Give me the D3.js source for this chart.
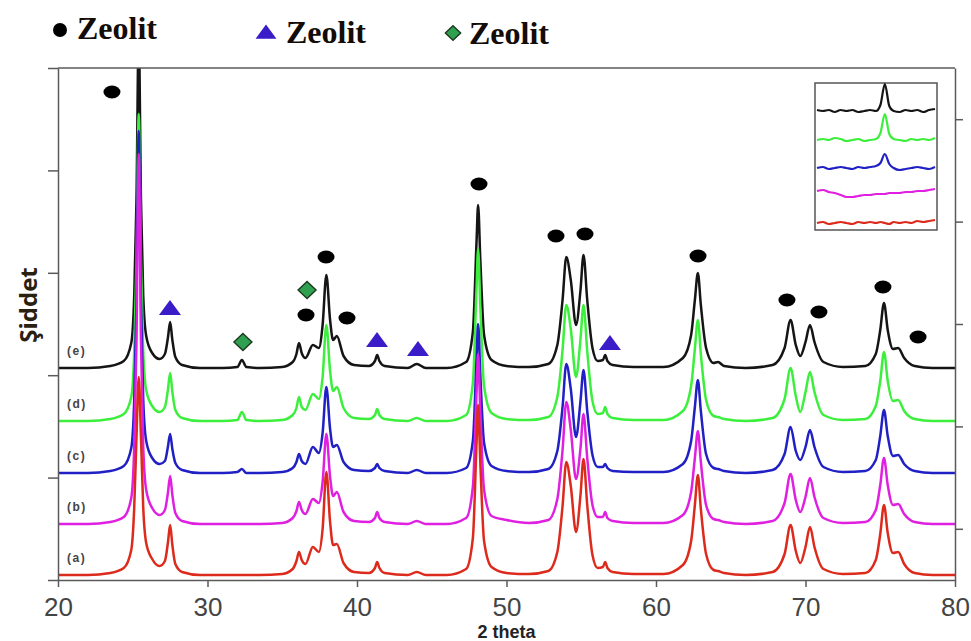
<!DOCTYPE html>
<html><head><meta charset="utf-8">
<script src="https://cdn.jsdelivr.net/npm/d3@7"></script>
<style>body{margin:0;background:#fff;} svg{display:block;}</style>
</head><body><svg id="c" width="971" height="641"></svg>
<script>
// ---------- DATA ----------
const twoTheta = [
 20, 22, 23.5, 24.4, 24.9, 25.1, 25.25, 25.4, 25.55, 25.7,
 25.9, 26.3, 26.8, 27.15, 27.35, 27.5, 27.65, 27.85, 28.3, 29.5,
 31, 32.0, 32.3, 32.6, 33.5, 35.0, 35.7, 35.95, 36.12, 36.3,
 36.55, 37.05, 37.45, 37.7, 37.95, 38.2, 38.4, 38.65, 39.1, 39.8,
 40.8, 41.2, 41.35, 41.5, 41.85, 43.4, 44.0, 44.6, 46.0, 47.3,
 47.75, 48.0, 48.1, 48.25, 48.5, 49.0, 50.0, 51.5, 52.8, 53.4,
 53.75, 54.0, 54.3, 54.65, 54.95, 55.15, 55.4, 55.75, 56.1, 56.45,
 56.6, 56.75, 57.1, 58.5, 60.5, 61.8, 62.35, 62.6, 62.8, 63.0,
 63.35, 63.85, 64.15, 64.55, 66.0, 67.8, 68.6, 69.0, 69.35, 69.65,
 70.0, 70.3, 70.6, 71.2, 72.5, 74.0, 74.7, 75.0, 75.25, 75.5,
 75.85, 76.2, 76.6, 77.3, 78.5, 80];

const sampleE = [
 2,2,4,9,27,75,170,340,170,75,
 34,17,11,16,32,48,30,13,5,2,
 2,3,10,3,2,3,8,16,27,17,
 12,25,22,45,95,50,30,34,14,5,
 4,9,15,9,4,2,6,2,2,8,
 38,130,165,110,35,10,4,3,6,25,
 70,113,90,45,80,115,70,22,9,10,
 15,9,5,3,3,12,35,70,97,65,
 22,7,8,4,2,5,22,50,25,14,
 28,45,28,8,3,4,16,40,67,40,
 21,22,12,4,2,2];
const sampleD = [
 2,2,4,9,26,72,160,309,160,72,
 33,17,11,16,33,50,31,13,5,2,
 2,3,11,3,2,3,8,15,26,16,
 13,29,24,46,98,52,32,36,15,5,
 4,8,14,8,4,2,5,2,2,8,
 40,137,174,116,37,10,4,3,6,26,
 73,118,94,46,84,118,72,22,9,10,
 16,9,5,3,3,12,37,74,103,69,
 23,7,6,4,2,5,24,55,27,11,
 31,51,31,8,3,4,17,42,71,42,
 22,23,12,4,2,2];
const sampleC = [
 2,2,4,9,27,76,175,344,175,76,
 34,17,11,14,28,41,26,12,5,2,
 2,3,6,2,2,3,7,13,21,14,
 11,28,22,42,88,46,28,30,13,5,
 4,7,11,7,4,2,5,2,2,7,
 34,118,151,100,32,9,4,3,6,24,
 68,111,86,38,74,105,64,20,8,8,
 11,7,4,3,3,11,34,68,95,64,
 21,7,6,4,2,5,21,48,24,15,
 28,45,28,8,3,4,15,39,65,39,
 19,20,11,4,2,2];
const sampleB = [
 2,2,4,9,28,80,185,372,185,80,
 36,18,11,16,33,50,31,13,5,2,
 2,2,2,2,2,3,8,15,24,16,
 12,27,23,44,92,49,30,34,14,5,
 4,8,14,8,4,2,5,2,2,8,
 39,135,172,114,36,10,6,3,6,27,
 76,124,96,47,78,112,68,21,9,9,
 14,8,5,3,3,11,34,68,95,64,
 21,7,6,4,2,5,23,52,26,14,
 29,48,29,8,3,4,16,41,68,41,
 21,22,12,4,2,2];
const sampleA = [
 2,2,4,9,27,70,140,200,140,70,
 34,18,11,16,34,52,32,13,5,2,
 2,2,2,2,2,3,8,16,25,17,
 13,30,25,48,105,55,32,33,14,5,
 4,9,15,9,4,2,5,2,2,8,
 39,135,172,114,36,10,4,3,6,25,
 71,115,91,45,82,118,72,22,9,10,
 15,9,5,3,3,12,36,72,102,68,
 23,7,6,4,2,5,23,52,26,14,
 30,50,30,8,3,4,17,43,72,44,
 24,25,13,4,2,2];

const sampleLabels = ["(e)", "(d)", "(c)", "(b)", "(a)"];
const sampleOffsets = [210, 157, 105, 54, 3];
const xTicks = [20, 30, 40, 50, 60, 70, 80];
const xTitle = "2 theta";
const yTitle = "Şiddet";
const legendLabels = ["Zeolit", "Zeolit", "Zeolit"];

// phase markers: [type index, 2theta, intensity]
const markerType = [0,1,2,2,0,0,0,1,1,0,0,0,1,0,0,0,0,0];
const markerTheta = [23.61,27.49,32.37,36.66,36.59,37.93,39.33,41.34,44.08,48.16,53.31,55.25,56.92,62.81,68.76,70.90,75.18,77.53];
const markerValue = [488,272,238,290,265,323,262,240,231,396,344,346,237,324,280,268,293,243];

// inset (zoom on the weak reflection)
const insetTheta = [30.0,30.2,30.4,30.6,30.8,31.0,31.2,31.4,31.6,31.8,32.0,32.15,32.3,32.45,32.6,32.8,33.0,33.2,33.4,33.6,33.8,34.0];
const insetE = [1,0,1,-1,1,0,1,-1,0,1,0,6,27,5,0,-1,1,0,1,-1,1,2];
const insetD = [0,1,0,2,1,-1,0,1,-1,0,1,7,26,6,1,0,-1,1,0,1,0,2];
const insetC = [0,1,-1,0,1,0,-1,1,0,1,2,5,14,4,0,-2,-1,0,1,0,-1,1];
const insetB = [2,3,1,0,-2,-4,-4,-3,-2,-2,-1,-1,-1,0,0,0,1,1,2,2,3,4];
const insetA = [0,1,-1,0,1,0,-1,1,0,1,0,1,0,-1,1,0,1,0,2,1,2,3];
const insetOffsets = [119, 90, 62, 37, 7];

// ---------- STYLE ----------
const colors = ["#151515", "#3cef3c", "#2020c4", "#e020e0", "#dc2a1c"];
const markerColors = ["#000000", "#3a1cc8", "#2f9f50"];

// ---------- DRAW ----------
const svg = d3.select("#c");
const L = 58, R = 955, T = 68, B = 580;
const x = d3.scaleLinear().domain([20, 80]).range([L, R]);
const y = d3.scaleLinear().domain([0, 512]).range([B, T]);

svg.append("defs").append("clipPath").attr("id", "clip")
  .append("rect").attr("x", L).attr("y", T).attr("width", R - L).attr("height", B - T);

const series = [sampleE, sampleD, sampleC, sampleB, sampleA];
const line = d3.line().curve(d3.curveMonotoneX);
const g = svg.append("g").attr("clip-path", "url(#clip)");
series.forEach((vals, i) => {
  const pts = twoTheta.map((t, k) => [x(t), y(vals[k] + sampleOffsets[i])]);
  g.append("path").attr("d", line(pts)).attr("fill", "none")
    .attr("stroke", colors[i]).attr("stroke-width", 2.5).attr("stroke-linejoin", "round");
});

// axes
const axisStyle = sel => {
  sel.selectAll("path,line").attr("stroke", "#5a5a5a").attr("stroke-width", 1.5);
};
const leftTicks = [0, 102.4, 204.8, 307.2, 409.6, 512];
const rightTicks = [51.2, 153.6, 256, 358.4, 460.8];
svg.append("g").attr("transform", `translate(${L},0)`)
  .call(d3.axisLeft(y).tickValues(leftTicks).tickFormat("").tickSize(10).tickSizeOuter(0))
  .call(axisStyle);
svg.append("g").attr("transform", `translate(${R},0)`)
  .call(d3.axisRight(y).tickValues(rightTicks).tickFormat("").tickSize(8).tickSizeOuter(0))
  .call(axisStyle);
const xa = svg.append("g").attr("transform", `translate(0,${B})`)
  .call(d3.axisBottom(x).tickValues(xTicks).tickSize(7).tickSizeOuter(0).tickPadding(11))
  .call(axisStyle);
xa.selectAll("text").attr("font-family", "Liberation Sans, Arial, sans-serif")
  .attr("font-size", 26).attr("fill", "#444").attr("dy", "0.71em");
svg.append("line").attr("x1", L).attr("x2", R).attr("y1", T).attr("y2", T)
  .attr("stroke", "#5a5a5a").attr("stroke-width", 1.5);

// axis titles
svg.append("text").attr("x", (L + R) / 2).attr("y", 638).attr("text-anchor", "middle")
  .attr("font-family", "Liberation Sans, Arial, sans-serif").attr("font-weight", "bold")
  .attr("font-size", 18).attr("fill", "#222").text(xTitle);
svg.append("text").attr("transform", "translate(37,305) rotate(-90)").attr("text-anchor", "middle")
  .attr("font-family", "Open Sans, sans-serif").attr("font-weight", "bold")
  .attr("font-size", 24).attr("fill", "#2a2010").text(yTitle);

// sample labels
sampleLabels.forEach((s, i) => {
  svg.append("text").attr("x", 67).attr("y", y(sampleOffsets[i] + 2) - 13)
    .attr("font-family", "Liberation Sans, Arial, sans-serif").attr("font-weight", "bold")
    .attr("font-size", 12).attr("letter-spacing", 1.5).attr("fill", "#444").text(s);
});

// marker shapes
function drawMarker(sel, type, cx, cy, scale) {
  const s = scale || 1;
  if (type === 0) {
    sel.append("ellipse").attr("cx", cx).attr("cy", cy).attr("rx", 8.5 * s).attr("ry", 6.5 * s)
      .attr("fill", markerColors[0]);
  } else if (type === 1) {
    sel.append("path").attr("d", `M${cx},${cy - 8*s} L${cx + 11*s},${cy + 7*s} L${cx - 11*s},${cy + 7*s} Z`)
      .attr("fill", markerColors[1]);
  } else {
    sel.append("path").attr("d", `M${cx},${cy - 8.5*s} L${cx + 9*s},${cy} L${cx},${cy + 8.5*s} L${cx - 9*s},${cy} Z`)
      .attr("fill", markerColors[2]).attr("stroke", "#1c3a20").attr("stroke-width", 1.4);
  }
}
const mg = svg.append("g");
markerTheta.forEach((t, i) => drawMarker(mg, markerType[i], x(t), y(markerValue[i])));

// legend
const legendSymX = [60, 266, 453];
const legendSymY = [30, 32, 33];
const legendTextX = [77, 286, 469];
const legendTextY = [39, 43, 44];
legendLabels.forEach((s, i) => {
  if (i === 0) svg.append("circle").attr("cx", legendSymX[i]).attr("cy", legendSymY[i]).attr("r", 7).attr("fill", "#000");
  else drawMarker(svg, i, legendSymX[i], legendSymY[i], i === 1 ? 0.95 : 0.85);
  svg.append("text").attr("x", legendTextX[i]).attr("y", legendTextY[i])
    .attr("font-family", "Liberation Serif, Times New Roman, serif").attr("font-weight", "bold")
    .attr("font-size", 32).attr("fill", "#140c06").text(s);
});

// inset
const iL = 815, iR = 937, iT = 83, iB = 230;
const ix = d3.scaleLinear().domain([30, 34]).range([iL + 2, iR - 2]);
const iy = d3.scaleLinear().domain([0, iB - iT]).range([iB, iT]);
svg.append("rect").attr("x", iL).attr("y", iT).attr("width", iR - iL).attr("height", iB - iT)
  .attr("fill", "#fff").attr("stroke", "#555").attr("stroke-width", 1.5);
const iseries = [insetE, insetD, insetC, insetB, insetA];
const ilines = d3.line().curve(d3.curveMonotoneX);
iseries.forEach((vals, i) => {
  const pts = insetTheta.map((t, k) => [ix(t), iy(vals[k] + insetOffsets[i])]);
  svg.append("path").attr("d", ilines(pts)).attr("fill", "none")
    .attr("stroke", colors[i]).attr("stroke-width", 2.2);
});
</script></body></html>
